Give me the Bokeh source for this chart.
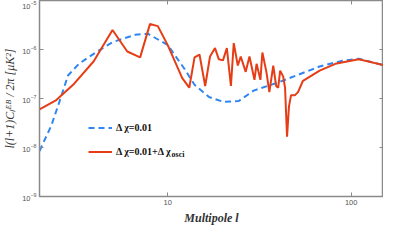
from bokeh.plotting import figure
from bokeh.models import (LogAxis, FixedTicker, BasicTickFormatter, LogTickFormatter,
                          Legend, LegendItem, Label, CustomJSTickFormatter)
from bokeh.embed import file_html
from bokeh.resources import INLINE

# ---- data ----
blue_l = [2.0, 2.32, 2.62, 2.86, 3.28, 4.05, 5.0, 6.65, 7.8, 10.0, 12.3, 14.0, 16.8,
          20.2, 24.4, 29.4, 41.0, 67.3, 89.5, 110.0, 150.0]
blue_v = [8.5e-9, 2.8e-8, 1.07e-7, 2.95e-7, 5.1e-7, 8.7e-7, 1.41e-6, 2.0e-6, 2.1e-6,
          1.23e-6, 4.1e-7, 1.9e-7, 1.07e-7, 8.5e-8, 8.9e-8, 1.45e-7, 2.2e-7, 4.5e-7,
          5.9e-7, 6.5e-7, 4.8e-7]

red_l = [2.0, 2.47, 3.05, 3.95, 5.0, 6.02, 7.07, 8.0, 8.83, 10.0, 12.0, 13.1, 14.0,
         14.9, 16.0, 17.0, 18.1, 19.0, 20.0, 21.0, 22.1, 22.9, 24.1, 25.0, 26.6, 27.9,
         29.7, 30.5, 32.0, 32.8, 34.5, 35.8, 37.6, 39.0, 40.0, 41.0, 42.6, 43.6, 44.7,
         45.8, 47.0, 49.4, 51.3, 54.6, 67.3, 82.0, 110.0, 150.0]
red_v = [6.0e-8, 9.3e-8, 1.9e-7, 5.75e-7, 2.5e-6, 9.1e-7, 6.9e-7, 3.3e-6, 3.0e-6,
         1.23e-6, 2.6e-7, 1.66e-7, 6.9e-7, 7.9e-7, 1.8e-7, 7.2e-7, 1.07e-6, 6.3e-7,
         6.0e-7, 1.07e-6, 1.8e-7, 1.35e-6, 4.7e-7, 7.2e-7, 3.5e-7, 7.2e-7, 2.4e-7,
         5.1e-7, 2.4e-7, 8.7e-7, 3.5e-7, 1.35e-7, 4.7e-7, 1.8e-7, 1.66e-7, 3.7e-7,
         2.8e-7, 1.66e-7, 1.66e-8, 6.9e-8, 1.17e-7, 1.17e-7, 1.35e-7, 2.3e-7, 3.7e-7,
         5.1e-7, 6.3e-7, 4.8e-7]

x_ticks = [10, 100]
y_ticks = [1e-9, 1e-8, 1e-7, 1e-6, 1e-5]
label_blue = "Δ χ=0.01"
label_red = "Δ χ=0.01+Δ χ"
label_red_sub = "osci"

BLUE = "#2f86f0"
RED = "#e63d17"
GRAY = "#8a8a8a"

p = figure(width=383, height=227, x_axis_type="log", y_axis_type="log",
           x_range=(2, 150), y_range=(1e-9, 1e-5),
           output_backend="svg", toolbar_location=None,
           min_border_left=37, min_border_right=0, min_border_top=0, min_border_bottom=0)
p.grid.visible = False
p.outline_line_color = GRAY
p.outline_line_width = 1.5
p.background_fill_color = "white"

rb = p.line(blue_l, blue_v, line_color=BLUE, line_width=2, line_dash="6 4")
rr = p.line(red_l, red_v, line_color=RED, line_width=2)

# axes styling
xa = p.xaxis[0]
xa.ticker = FixedTicker(ticks=x_ticks, minor_ticks=[])
xa.formatter = BasicTickFormatter()
ya = p.yaxis[0]
ya.ticker = FixedTicker(ticks=y_ticks, minor_ticks=[])
ya.formatter = LogTickFormatter()
for ax in (xa, ya):
    ax.axis_line_color = GRAY
    ax.major_tick_line_color = GRAY
    ax.major_tick_in = 4
    ax.major_tick_out = 0
    ax.minor_tick_line_color = None
    ax.major_label_text_font = "Liberation Sans"
    ax.major_label_text_font_size = "7.5px"
    ax.major_label_text_color = "#555555"
    ax.axis_label_text_font = "Liberation Serif"
    ax.axis_label_text_color = "#333333"
    ax.axis_label_text_font_size = "12px"
xa.major_label_standoff = 3
ya.major_label_standoff = 3
xa.axis_label = "Multipole l"
xa.axis_label_text_font_style = "bold italic"
xa.axis_label_standoff = 3
ya.axis_label = "l(l+1)Cₗᴱᴮ / 2π [μK²]"
ya.axis_label_text_font_style = "italic"
ya.axis_label_standoff = 2

# mirrored tick marks (right / top), no labels
empty = CustomJSTickFormatter(code="return ''")
ra = LogAxis(ticker=FixedTicker(ticks=y_ticks, minor_ticks=[]), formatter=empty,
             axis_line_color=None, major_tick_line_color=GRAY, major_tick_in=4,
             major_tick_out=0, minor_tick_line_color=None, axis_label=None,
             axis_label_standoff=0,
             major_label_text_font_size="0px", major_label_standoff=0)
ta = LogAxis(ticker=FixedTicker(ticks=x_ticks, minor_ticks=[]), formatter=empty,
             axis_line_color=None, major_tick_line_color=GRAY, major_tick_in=4,
             major_tick_out=0, minor_tick_line_color=None, axis_label=None,
             axis_label_standoff=0,
             major_label_text_font_size="0px", major_label_standoff=0)
p.add_layout(ra, "right")
p.add_layout(ta, "above")

legend = Legend(items=[LegendItem(label=label_blue, renderers=[rb]),
                       LegendItem(label=label_red, renderers=[rr])],
                location=(49, 35), padding=0, margin=0, spacing=5,
                glyph_width=24, glyph_height=19, label_standoff=4,
                border_line_color=None, background_fill_alpha=0,
                label_text_font="Liberation Serif", label_text_font_style="bold",
                label_text_font_size="10px", label_text_color="#111111")
p.add_layout(legend)

sub = Label(x=10.5, y=5.9e-9, text=label_red_sub, text_font="Liberation Serif",
            text_font_style="bold", text_font_size="8px", text_color="#111111")
p.add_layout(sub)

open("out.html", "w").write(file_html(p, INLINE))
